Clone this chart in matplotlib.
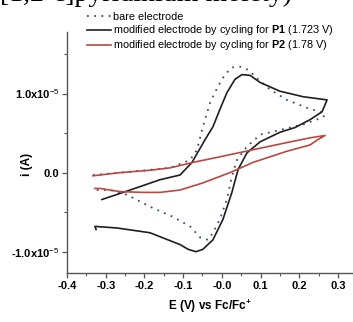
import numpy as np
import matplotlib
matplotlib.use("Agg")
import matplotlib.pyplot as plt
from matplotlib.ticker import MultipleLocator

plt.rcParams.update({
    "font.family": "Liberation Sans",
    "mathtext.fontset": "custom",
    "mathtext.rm": "Liberation Sans",
    "mathtext.bf": "Liberation Sans:bold",
})

# current in units of 1e-5 A, potential in V vs Fc/Fc+
bare_E = [-0.333, -0.237, -0.134, -0.082, -0.064, -0.049, -0.030, -0.010, 0.008, 0.026,
          0.047, 0.068, 0.094, 0.125, 0.168, 0.220, 0.259, 0.267,
          0.262, 0.210, 0.150, 0.099, 0.065, 0.039, 0.026, 0.013, -0.005, -0.023,
          -0.036, -0.056, -0.082, -0.126, -0.186, -0.245, -0.289, -0.328]
bare_i = [-0.03, 0.01, 0.06, 0.16, 0.29, 0.58, 0.89, 1.09, 1.24, 1.33,
          1.34, 1.30, 1.18, 1.05, 0.92, 0.82, 0.76, 0.74,
          0.70, 0.61, 0.54, 0.48, 0.33, 0.16, -0.05, -0.34, -0.59, -0.76,
          -0.85, -0.82, -0.68, -0.56, -0.43, -0.28, -0.22, -0.22]

p1_E = [-0.310, -0.237, -0.160, -0.108, -0.077, -0.043, -0.023, -0.005, 0.013, 0.034,
        0.052, 0.073, 0.099, 0.150, 0.210, 0.272,
        0.259, 0.228, 0.189, 0.150, 0.099, 0.065, 0.042, 0.026, 0.003, -0.023,
        -0.049, -0.067, -0.087, -0.108, -0.186, -0.271, -0.328, -0.325]
p1_i = [-0.34, -0.22, -0.09, -0.03, 0.13, 0.42, 0.58, 0.80, 1.01, 1.18,
        1.24, 1.23, 1.14, 1.03, 0.96, 0.92,
        0.77, 0.67, 0.57, 0.51, 0.39, 0.25, 0.04, -0.25, -0.59, -0.85,
        -0.97, -1.00, -0.97, -0.91, -0.76, -0.70, -0.68, -0.72]

p2_E = [-0.333, -0.263, -0.186, -0.134, -0.074, -0.005, 0.081, 0.168, 0.228, 0.267,
        0.249, 0.228, 0.168, 0.081, 0.021, -0.049, -0.108, -0.160, -0.204, -0.263,
        -0.315, -0.328]
p2_i = [-0.04, 0.00, 0.03, 0.06, 0.13, 0.20, 0.29, 0.38, 0.44, 0.47,
        0.42, 0.35, 0.27, 0.13, 0.00, -0.13, -0.22, -0.25, -0.25, -0.24,
        -0.20, -0.20]

labels = ["bare electrode",
          "modified electrode by cycling for $\\mathbf{P1}$ (1.723 V)",
          "modified electrode by cycling for $\\mathbf{P2}$ (1.78 V)"]

BARE = "#3d4a78"
P1 = "#1e1e1e"
P2 = "#b8483f"
AXIS = "#555555"

fig = plt.figure(figsize=(3.53, 3.22), dpi=100)
ax = fig.add_axes([0.190, 0.152, 0.810, 0.749])

ax.plot(bare_E, bare_i, color=BARE, lw=1.3, ls=(0, (1, 3)), label=labels[0])
ax.plot(p1_E, p1_i, color=P1, lw=1.2, label=labels[1])
ax.plot(p2_E, p2_i, color=P2, lw=1.2, label=labels[2])

ax.set_xlim(-0.4, 0.339)
ax.set_ylim(-1.27, 1.78)
ax.xaxis.set_minor_locator(MultipleLocator(0.05))
ax.set_xticks(np.arange(-0.4, 0.31, 0.1))
ax.set_xticklabels([f"{v:.1f}" for v in np.arange(-0.4, 0.31, 0.1)],
                   fontweight="bold", fontsize=8)
ax.set_yticks([-1, 0, 1])
ax.set_yticklabels(["-1.0x10$^{-5}$", "0.0", "1.0x10$^{-5}$"],
                   fontweight="bold", fontsize=8)
ax.yaxis.set_minor_locator(MultipleLocator(0.5))

for s in ("top", "right"):
    ax.spines[s].set_visible(False)
for s in ("left", "bottom"):
    ax.spines[s].set_color(AXIS)
    ax.spines[s].set_linewidth(1.0)
ax.tick_params(which="major", direction="out", length=3.5, width=0.9, color=AXIS, pad=2)
ax.tick_params(which="minor", direction="out", length=2, width=0.8, color=AXIS)

ax.set_xlabel("E (V) vs Fc/Fc$^{\\mathbf{+}}$", fontweight="bold", fontsize=8.5, labelpad=5)
ax.set_ylabel("i (A)", fontweight="bold", fontsize=8.5)
ax.yaxis.set_label_coords(-0.12, 0.45)

fig.legend(loc="upper left", bbox_to_anchor=(0.247, 0.962), frameon=False,
           fontsize=7.8, handlelength=2.2, handletextpad=0.2, labelspacing=0.1,
           borderpad=0, borderaxespad=0)

# cut-off line of the surrounding document text
fig.text(0.0, 0.996, "[1,2-c]pyridinium moiety)", family="Liberation Serif",
         fontsize=20, va="baseline", ha="left")

fig.savefig("out.png", dpi=100)
